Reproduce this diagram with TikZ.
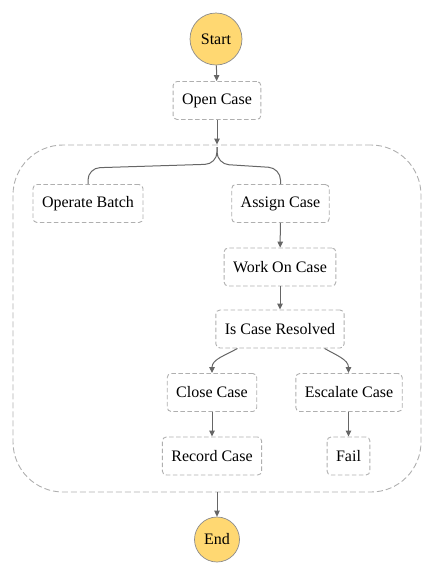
\documentclass[tikz,border=0pt]{standalone}
\usepackage{fontspec}
\setmainfont{Liberation Serif}
\usetikzlibrary{arrows.meta,shapes}
\definecolor{termfill}{HTML}{FFD872}
\definecolor{termline}{HTML}{8C8C8C}
\definecolor{edgegray}{HTML}{666666}
\definecolor{boxgray}{HTML}{AFAFAF}
\newcommand{\stateh}{38pt}
\newcommand{\labelfont}{\rmfamily\fontsize{16}{18}\selectfont}

\begin{document}
\begin{tikzpicture}[x=1pt,y=-1pt]
    %\draw[help lines] (0,0) grid (434,574);
    \tikzset{
        state/.style = {draw=boxgray, line width=0.9pt, dash pattern=on 4.5pt off 2.5pt,
                        rounded corners=4pt, minimum height=\stateh, inner xsep=9pt, font=\labelfont},
        term/.style  = {circle, draw=termline, line width=0.7pt, fill=termfill, inner sep=0pt, font=\labelfont},
        group/.style = {draw=boxgray, line width=0.9pt, dash pattern=on 6pt off 3pt, rounded corners=50pt},
        link/.style  = {draw=edgegray, line width=1pt, -{Triangle[length=6pt,width=5.5pt]}},
        fan/.style   = {draw=edgegray, line width=1pt}
    }
    \useasboundingbox (0,0) rectangle (434,574);

    % parallel block
    \node[group, minimum width=408pt, minimum height=347pt] (par) at (217,318.5) {};

    \node[term, minimum size=52pt] (start) at (216,39) {Start};
    \node[state] (open) at (217,100.5) {Open Case};
    \node[state] (batch) at (88,203.5) {Operate Batch};
    \node[state] (assign) at (280.5,203.5) {Assign Case};
    \node[state] (work) at (280,267) {Work On Case};
    \node[state] (resolved) at (280,329) {Is Case Resolved};
    \node[state] (close) at (212,392.5) {Close Case};
    \node[state] (escalate) at (349,392.5) {Escalate Case};
    \node[state] (record) at (212,456) {Record Case};
    \node[state] (fail) at (348.5,456) {Fail};
    \node[term, minimum size=45pt] (end) at (217,539.5) {End};

    \coordinate (fork) at (217,147);

    \draw[link] (start) -- (open);
    \draw[link] (open) -- (par.north);
    \draw[fan, rounded corners=12pt] (fork) -- (217,164) -- (88,168) -- (batch.north);
    \draw[fan, rounded corners=12pt] (fork) -- (217,164) -- (280.5,168) -- (assign.north);
    \draw[link] (assign) -- (work);
    \draw[link] (work) -- (resolved);
    \draw[link] (resolved.south west) ++(22,0) to[out=-150,in=90] (close.north);
    \draw[link] (resolved.south east) ++(-20,0) to[out=-30,in=90] (escalate.north -| fail.north);
    \draw[link] (close) -- (record);
    \draw[link] (escalate.south -| fail.north) -- (fail);
    \draw[link] (par.south) -- (end);
\end{tikzpicture}
\end{document}
